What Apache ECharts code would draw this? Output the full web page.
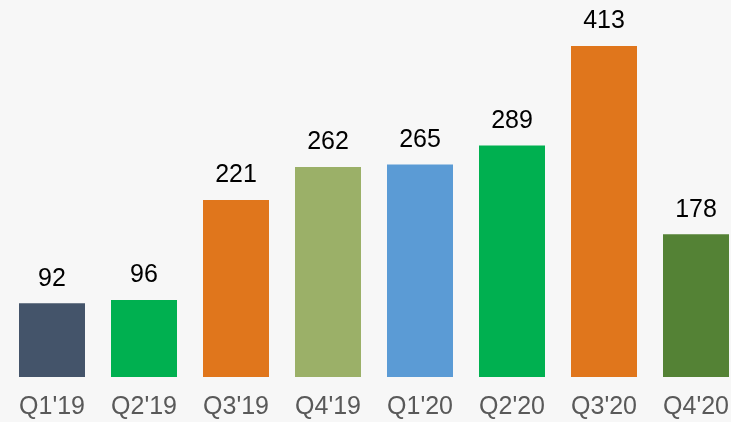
<!DOCTYPE html>
<html>
<head>
<meta charset="utf-8">
<script src="https://cdn.jsdelivr.net/npm/echarts@6/dist/echarts.min.js"></script>
<style>
html,body{margin:0;padding:0;background:#f7f7f7;}
#main{width:731px;height:422px;}
</style>
</head>
<body>
<div id="main"></div>
<script>
const categories = ["Q1'19","Q2'19","Q3'19","Q4'19","Q1'20","Q2'20","Q3'20","Q4'20"];
const values = [92, 96, 221, 262, 265, 289, 413, 178];
const colors = ["#44546a","#00b050","#e0761c","#9bb068","#5b9bd5","#00b050","#e0761c","#548235"];

const chart = echarts.init(document.getElementById('main'));
chart.setOption({
  backgroundColor: '#f7f7f7',
  animation: false,
  grid: {left: 6, right: -11, top: 46, bottom: 45, containLabel: false, outerBoundsMode: 'none'},
  xAxis: {
    type: 'category',
    data: categories,
    axisLine: {show: false},
    axisTick: {show: false},
    axisLabel: {color: '#595959', fontSize: 25, fontFamily: 'Liberation Sans, Arial, sans-serif', margin: 18, interval: 0}
  },
  yAxis: {
    type: 'value', min: 0, max: 413, show: false, splitLine: {show: false}
  },
  series: [{
    type: 'bar',
    data: values.map((v, i) => ({value: v, itemStyle: {color: colors[i]}})),
    barWidth: 66,
    label: {show: true, position: 'top', distance: 12, color: '#000', fontSize: 25, fontFamily: 'Liberation Sans, Arial, sans-serif'}
  }]
});
</script>
</body>
</html>
